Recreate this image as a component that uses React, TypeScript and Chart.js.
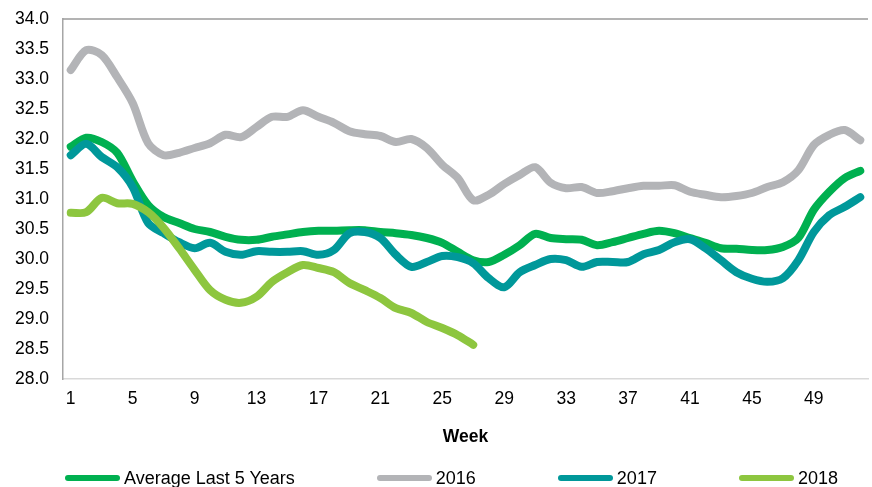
import React, { useEffect, useRef } from "react";
import { Chart, registerables } from "chart.js";

Chart.register(...registerables);

const weeks: string[] = Array.from({ length: 52 }, (_, i) => String(i + 1));

const seriesNames = ["Average Last 5 Years", "2016", "2017", "2018"];
const seriesColors = ["#00B050", "#B3B4B7", "#00989A", "#8DC63F"];

const avg5: number[] = [
  31.87, 32.02, 31.95, 31.77, 31.3, 30.9, 30.7, 30.6, 30.5, 30.45,
  30.37, 30.32, 30.32, 30.37, 30.41, 30.45, 30.47, 30.47, 30.48, 30.48,
  30.45, 30.43, 30.4, 30.35, 30.27, 30.12, 29.98, 29.95, 30.07, 30.23,
  30.42, 30.35, 30.33, 30.32, 30.23, 30.28, 30.35, 30.42, 30.47, 30.43,
  30.35, 30.27, 30.18, 30.17, 30.15, 30.15, 30.2, 30.35, 30.82, 31.12,
  31.35, 31.47,
];

const y2016: number[] = [
  33.15, 33.48, 33.4, 33.03, 32.6, 31.93, 31.73, 31.77, 31.85, 31.93,
  32.07, 32.03, 32.2, 32.37, 32.37, 32.48, 32.37, 32.27, 32.13, 32.08,
  32.05, 31.95, 32.0, 31.85, 31.57, 31.35, 30.98, 31.07, 31.25, 31.4,
  31.53, 31.27, 31.18, 31.2, 31.1, 31.13, 31.18, 31.22, 31.22, 31.23,
  31.12, 31.07, 31.03, 31.05, 31.1, 31.2, 31.28, 31.48, 31.9, 32.07,
  32.15, 31.98,
];

const y2017: number[] = [
  31.73, 31.92, 31.7, 31.53, 31.2, 30.6, 30.43, 30.28, 30.18, 30.27,
  30.12, 30.07, 30.13, 30.12, 30.12, 30.13, 30.07, 30.15, 30.43, 30.45,
  30.35, 30.07, 29.87, 29.95, 30.05, 30.03, 29.93, 29.68, 29.53, 29.78,
  29.9, 30.0, 29.98, 29.87, 29.95, 29.95, 29.95, 30.08, 30.15, 30.28,
  30.33, 30.18, 29.98, 29.78, 29.67, 29.62, 29.68, 29.98, 30.45, 30.73,
  30.87, 31.03,
];

const y2018: (number | null)[] = [
  30.77, 30.78, 31.02, 30.93, 30.92, 30.78, 30.52, 30.18, 29.82, 29.48,
  29.32, 29.27, 29.37, 29.62, 29.78, 29.9, 29.85, 29.78, 29.6, 29.48,
  29.35, 29.18, 29.1, 28.95, 28.85, 28.73, 28.57,
];

const seriesData = [avg5, y2016, y2017, y2018];

const FONT = "'Liberation Sans', Arial, sans-serif";

const topBorder = {
  id: "topBorder",
  afterDraw(chart: any) {
    const { ctx, chartArea } = chart;
    ctx.save();
    ctx.strokeStyle = "#9A9A9A";
    ctx.lineWidth = 1.5;
    ctx.beginPath();
    ctx.moveTo(chartArea.left, chartArea.top);
    ctx.lineTo(chartArea.right, chartArea.top);
    ctx.stroke();
    ctx.restore();
  },
};

export default function App() {
  const ref = useRef<HTMLCanvasElement | null>(null);

  useEffect(() => {
    if (!ref.current) return;
    const chart = new Chart(ref.current, {
      type: "line",
      data: {
        labels: weeks,
        datasets: seriesNames.map((name, i) => ({
          label: name,
          data: seriesData[i],
          borderColor: seriesColors[i],
          backgroundColor: seriesColors[i],
          borderWidth: 8,
          pointRadius: 0,
          tension: 0.3,
          borderJoinStyle: "round" as const,
          borderCapStyle: "round" as const,
          fill: false,
          order: [3, 4, 2, 1][i],
        })),
      },
      options: {
        animation: false,
        responsive: true,
        maintainAspectRatio: false,
        layout: { padding: { top: 19, right: 1, bottom: 38, left: 0 } },
        plugins: {
          legend: { display: false },
          tooltip: { enabled: false },
        },
        scales: {
          x: {
            type: "category",
            offset: true,
            grid: { display: false, drawTicks: false },
            border: { display: true, color: "#D9D9D9", width: 1.5 },
            ticks: {
              autoSkip: false,
              maxRotation: 0,
              padding: 10,
              color: "#000",
              font: { family: FONT, size: 17.5 },
              callback: (_v: any, i: number) => (i % 4 === 0 ? weeks[i] : ""),
            },
            title: {
              display: true,
              text: "Week",
              color: "#000",
              font: { family: FONT, size: 17.5, weight: "bold" },
              padding: { top: 7, bottom: 0 },
            },
          },
          y: {
            min: 28,
            max: 34,
            grid: {
              display: true,
              drawOnChartArea: false,
              drawTicks: true,
              tickLength: 11,
              color: "rgba(0,0,0,0)",
            },
            border: { display: true, color: "#A6A6A6", width: 1.5 },
            afterFit: (s: any) => {
              s.width = 63;
            },
            ticks: {
              stepSize: 0.5,
              padding: 3,
              color: "#000",
              font: { family: FONT, size: 17.5 },
              callback: (v: any) => Number(v).toFixed(1),
            },
          },
        },
      },
      plugins: [topBorder],
    });
    // fine-tune layout padding so the plot area lands where the reference has it
    for (let k = 0; k < 3; k++) {
      const ca = chart.chartArea;
      const p = (chart.options.layout as any).padding;
      p.top = Math.max(0, p.top + 19 - ca.top);
      p.right += ca.right - 871;
      p.bottom += ca.bottom - 379;
      chart.update();
    }
    return () => chart.destroy();
  }, []);

  return (
    <div style={{ position: "fixed", left: 0, top: 0, width: 872, height: 487, background: "#fff" }}>
      <canvas ref={ref} />
      <div
        style={{
          position: "absolute",
          left: 65,
          top: 466,
          display: "flex",
          alignItems: "center",
          gap: 82,
          fontFamily: FONT,
          fontSize: 18,
          color: "#000",
          whiteSpace: "nowrap",
        }}
      >
        {seriesNames.map((name, i) => (
          <div key={name} style={{ display: "flex", alignItems: "center", height: 24 }}>
            <span
              style={{
                display: "inline-block",
                width: 55,
                height: 6,
                borderRadius: 3,
                background: seriesColors[i],
                marginRight: 4,
              }}
            />
            <span>{name}</span>
          </div>
        ))}
      </div>
    </div>
  );
}
